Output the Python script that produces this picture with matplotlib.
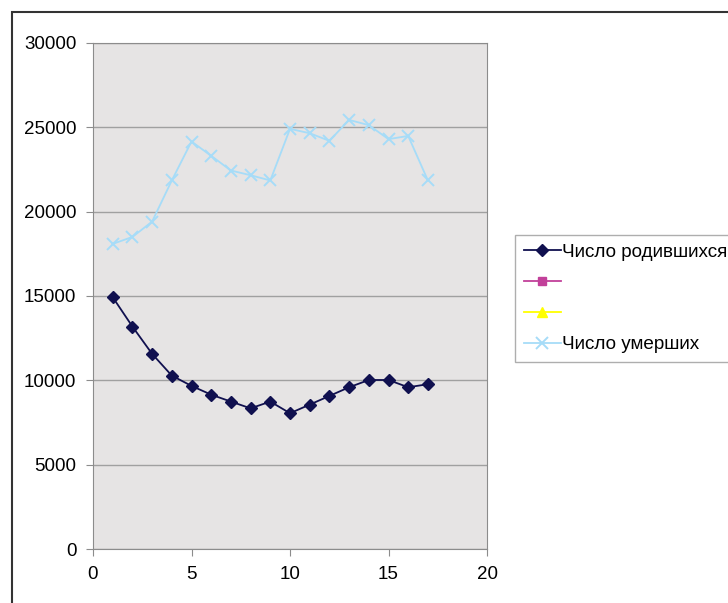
import matplotlib.pyplot as plt
from matplotlib.lines import Line2D
from matplotlib.patches import Rectangle

plt.rcParams['font.family'] = ['Liberation Sans', 'DejaVu Sans']

# данные
years = list(range(1, 18))
births = [14930, 13190, 11570, 10280, 9670, 9150, 8740, 8340, 8740,
          8050, 8560, 9075, 9590, 10020, 10020, 9590, 9770]
deaths = [18090, 18500, 19410, 21850, 24160, 23310, 22440, 22160, 21850,
          24910, 24650, 24200, 25440, 25130, 24300, 24490, 21850]
series2 = []
series3 = []
labels = ["Число родившихся", "", "", "Число умерших"]

W, H = 728, 603
fig = plt.figure(figsize=(W / 100, H / 100), dpi=100)
ax = fig.add_axes([93 / W, 1 - 549 / H, (487 - 93) / W, (549 - 43) / H])
ax.set_facecolor("#e6e4e4")

l1, = ax.plot(years, births, color="#10104f", marker="D", markersize=6, linewidth=1.3)
l2, = ax.plot(series2, series2, color="#c2409a", marker="s", markersize=6, linewidth=1.3)
l3, = ax.plot(series3, series3, color="#ffff00", marker="^", markersize=7, linewidth=1.3)
l4, = ax.plot(years, deaths, color="#a6dcf8", marker="x", markersize=8.5,
              markeredgewidth=1.4, linewidth=1.3)

ax.set_xlim(0, 20)
ax.set_ylim(0, 30000)
ax.set_xticks(range(0, 21, 5))
ax.set_yticks(range(0, 30001, 5000))
ax.yaxis.grid(True, color="#a0a0a0", linewidth=1)
ax.set_axisbelow(True)
for s in ax.spines.values():
    s.set_color("#8c8c8c")
ax.tick_params(direction="out", length=5, color="#8c8c8c", labelsize=13.5, pad=7)

# легенда
leg = fig.legend([l1, l2, l3, l4], labels, loc="upper left",
                 bbox_to_anchor=(515 / W, 1 - 235 / H), fontsize=13.6,
                 frameon=True, fancybox=False, edgecolor="#9a9a9a",
                 handlelength=2.0, handletextpad=0.05, labelspacing=0.72,
                 borderpad=0.45, borderaxespad=0)
leg.get_frame().set_linewidth(1)

# рамка диаграммы
fig.patches.append(Rectangle((12 / W, -0.1), 1.2, 1.1 - 12 / H, transform=fig.transFigure,
                             fill=False, edgecolor="#333333", linewidth=1.5))

fig.savefig("out.png", dpi=100)
